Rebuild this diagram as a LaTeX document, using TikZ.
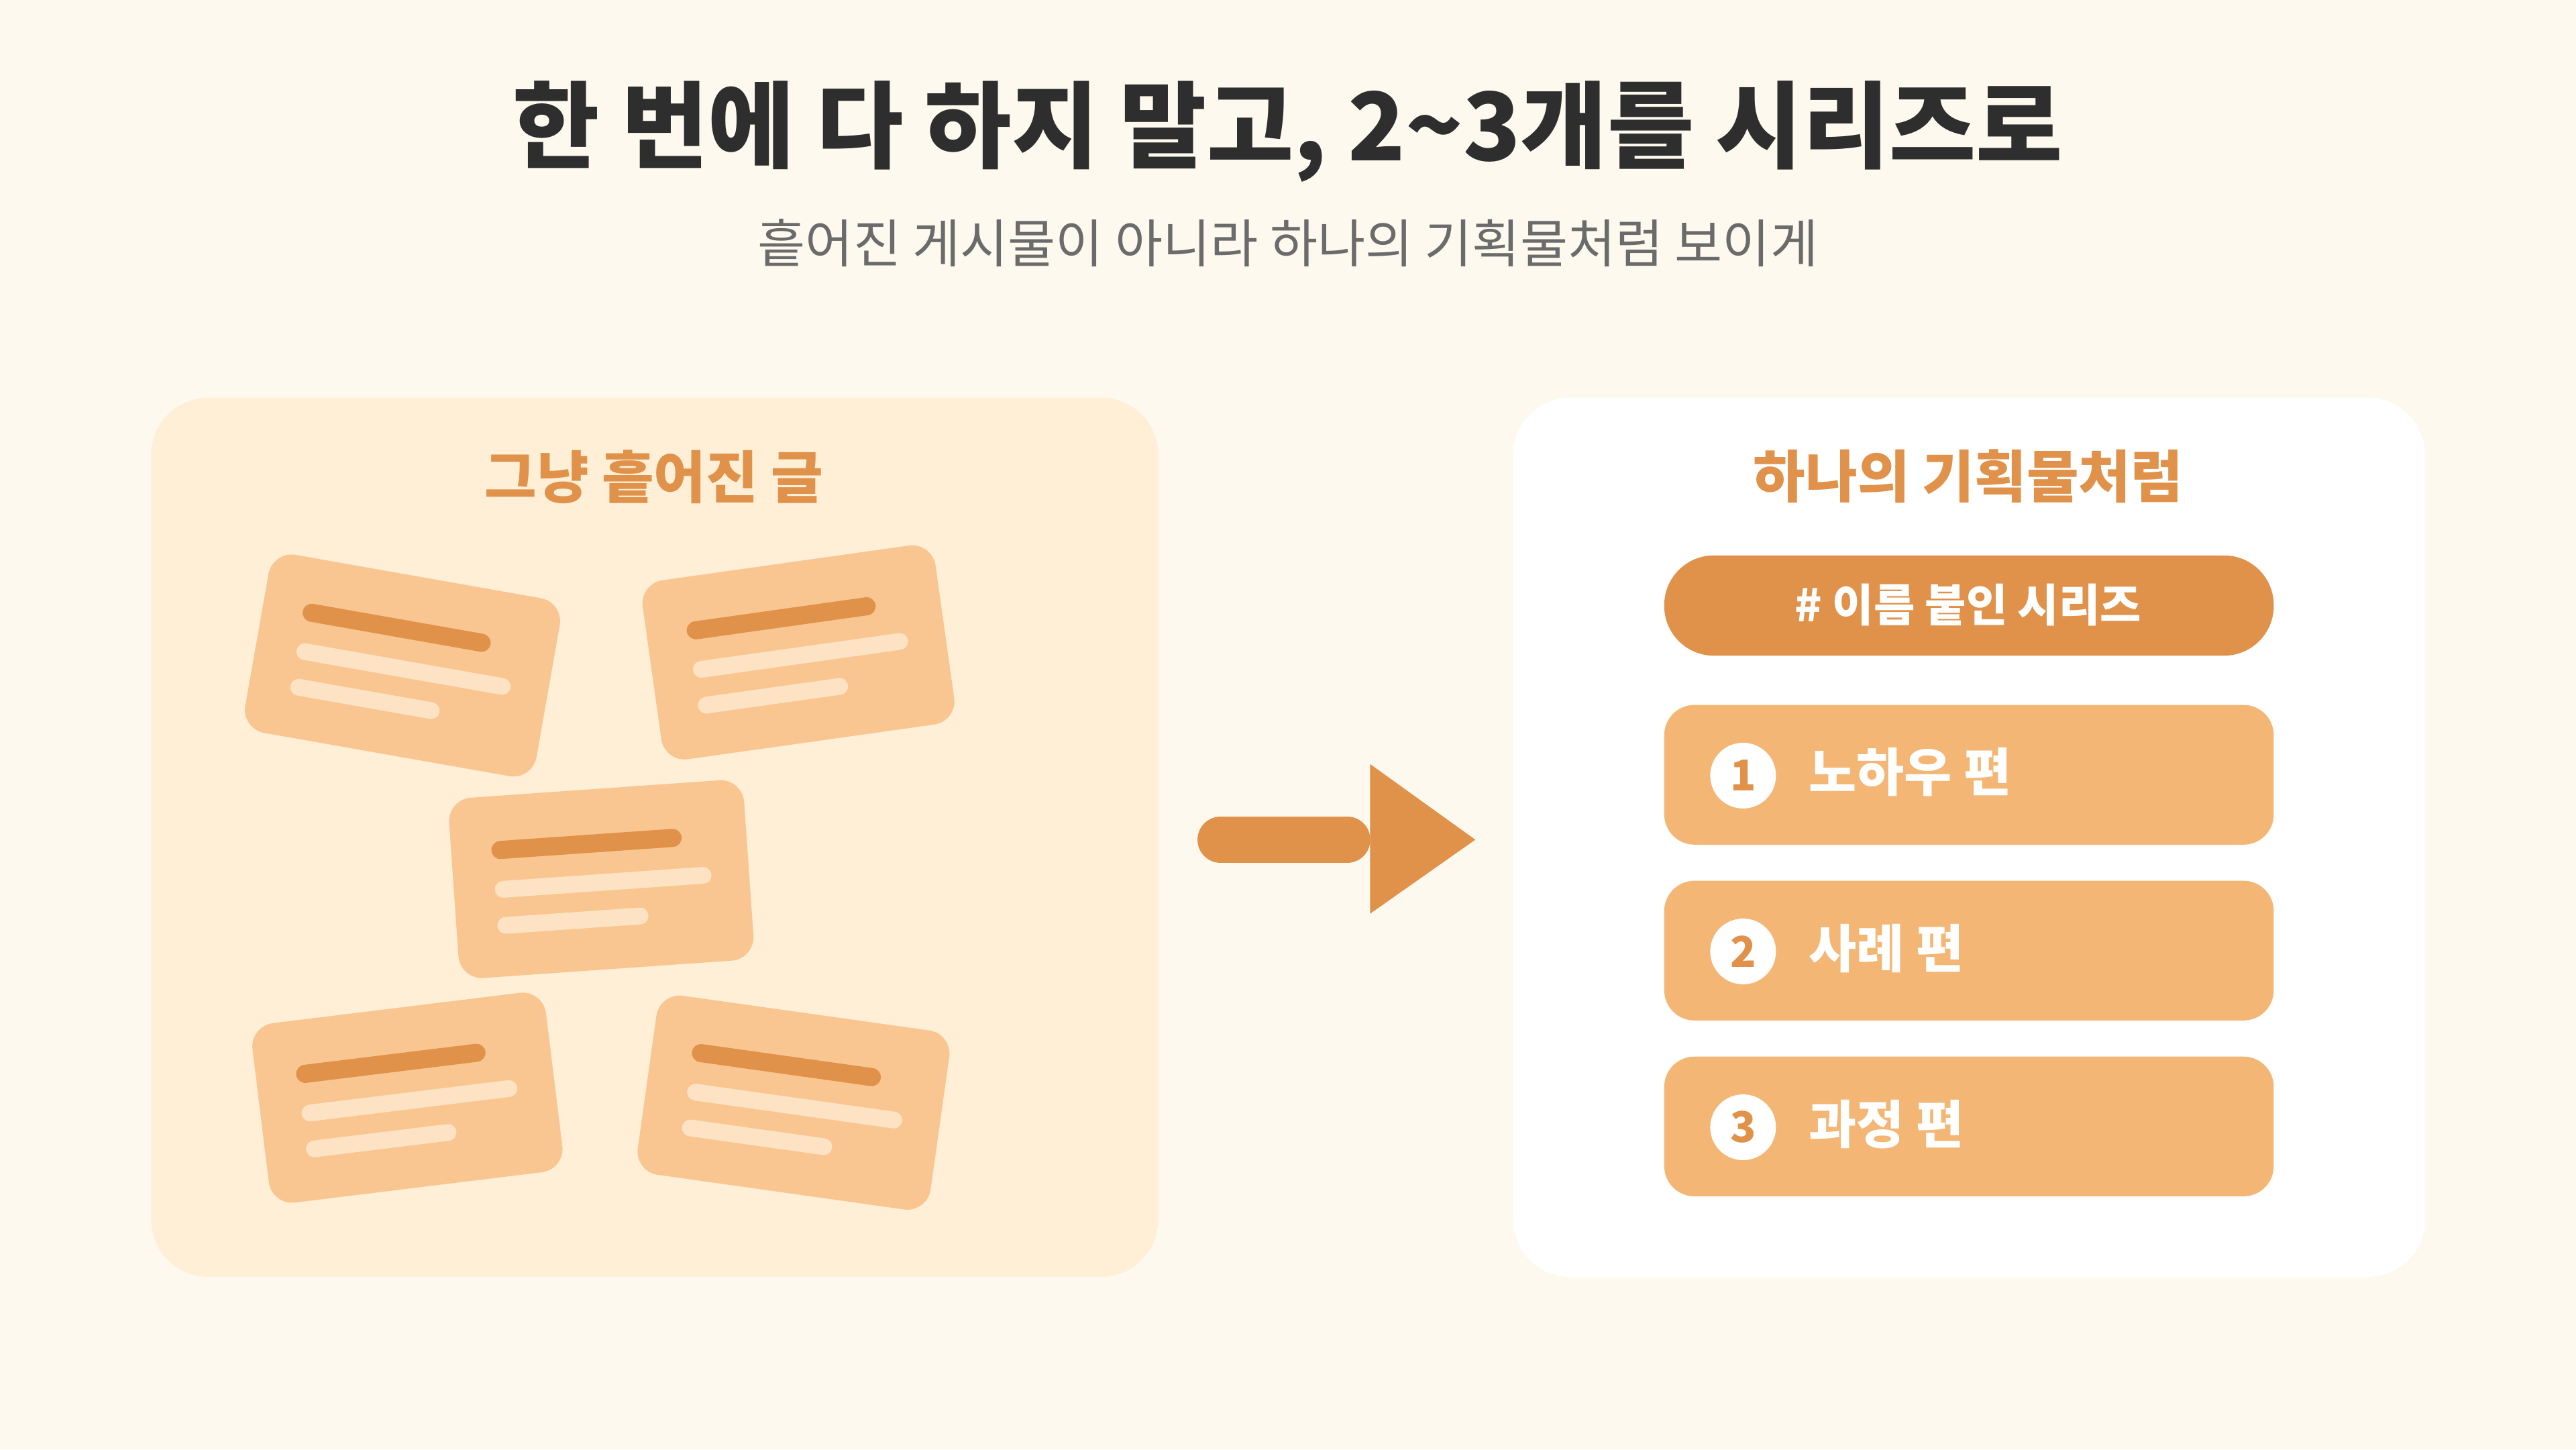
\documentclass[tikz,border=0pt]{standalone}
\usepackage{fontspec}
\setmainfont{Noto Sans CJK KR}
\usetikzlibrary{positioning}
\definecolor{bg}{HTML}{FEF9EE}
\definecolor{panel}{HTML}{FEEFD6}
\definecolor{org}{HTML}{E0914A}
\definecolor{card}{HTML}{F9C691}
\definecolor{lite}{HTML}{FDE3C3}
\definecolor{item}{HTML}{F3B674}
\definecolor{ttl}{HTML}{2E2E2E}
\definecolor{sub}{HTML}{6B6B6B}
\begin{document}
\begin{tikzpicture}[x=0.024490cm,y=-0.024490cm,
  lbl/.style={font=\bfseries\fontsize{24pt}{28pt}\selectfont,text=org},
  itm/.style={fill=item,rounded corners=0.45cm},
  num/.style={circle,fill=white,minimum size=0.98cm,inner sep=0,text=org,font=\bfseries\fontsize{18pt}{20pt}\selectfont},
  itxt/.style={anchor=west,text=white,font=\bfseries\fontsize{22pt}{26pt}\selectfont}]
\fill[bg] (0,0) rectangle (1568,882);
\node[text=ttl,font=\bfseries\fontsize{40pt}{46pt}\selectfont] (title) at (784,80) {한 번에 다 하지 말고, 2\textasciitilde3개를 시리즈로};
\node[text=sub,font=\fontsize{22pt}{26pt}\selectfont] (subt) at (784,148) {흩어진 게시물이 아니라 하나의 기획물처럼 보이게};
% left panel
\fill[panel,rounded corners=0.85cm] (92,242) rectangle (705,777);
\node[lbl] (ll) at (398,290) {그냥 흩어진 글};
\foreach \cx/\cy/\a [count=\i] in {245/405/-10, 486/397/8, 366/535/4, 248/668/7, 483/671/-8}{
  \begin{scope}[shift={(\cx,\cy)},rotate=\a]
    \fill[card,rounded corners=0.35cm] (-90,-55) rectangle (90,55);
    \draw[org,line width=0.27cm,line cap=round] (-60,-22) -- (45,-22);
    \draw[lite,line width=0.25cm,line cap=round] (-60,2) -- (62,2);
    \draw[lite,line width=0.25cm,line cap=round] (-60,24) -- (22,24);
  \end{scope}
}
% arrow
\coordinate (a1) at (743,511);
\coordinate (a2) at (820,511);
\draw[org,line width=0.69cm,line cap=round] (a1) -- (a2);
\fill[org] (834,465) -- (898,511) -- (834,556) -- cycle;
% right panel
\fill[white,rounded corners=0.85cm] (921,242) rectangle (1476,777);
\node[lbl] (rl) at (1198,290) {하나의 기획물처럼};
\fill[org,rounded corners=0.74cm] (1013,338) rectangle (1384,399);
\node[text=white,font=\bfseries\fontsize{19pt}{22pt}\selectfont] (pill) at (1198,368) {\# 이름 붙인 시리즈};
\foreach \y/\n/\t in {429/1/노하우 편, 536/2/사례 편, 643/3/과정 편}{
  \fill[itm] (1013,\y) rectangle (1384,\y+85);
  \node[num] (n\n) at (1061,\y+43) {\n};
  \node[itxt] (t\n) at (1096,\y+41) {\t};
}
\end{tikzpicture}
\end{document}
